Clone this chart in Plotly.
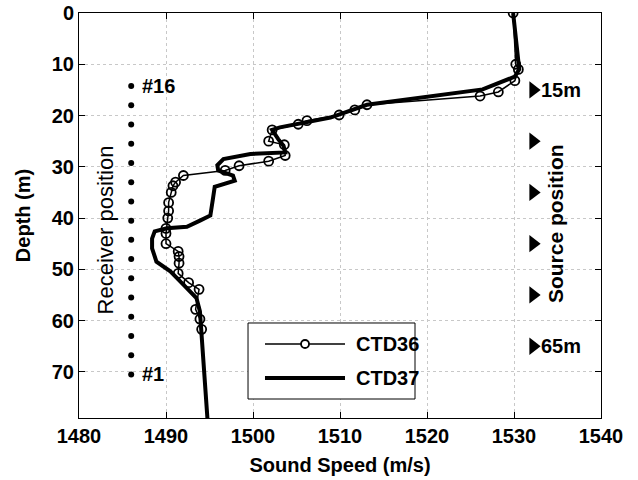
import plotly.graph_objects as go

# CTD36 (thin line with open circles)
ctd36_speed = [1529.9, 1530.2, 1530.5, 1530.1, 1528.2, 1526.1, 1513.1, 1511.7, 1509.9, 1506.2,
               1505.2, 1502.2, 1501.8, 1503.6, 1503.7, 1501.8, 1498.4, 1496.8, 1492.0, 1491.1,
               1490.8, 1490.6, 1490.3, 1490.3, 1490.2, 1490.0, 1490.0, 1490.0, 1491.4, 1491.5,
               1491.5, 1491.4, 1492.6, 1493.8, 1493.4, 1493.9, 1494.1]
ctd36_depth = [0, 10, 11, 13.2, 15.4, 16.2, 17.9, 18.9, 19.9, 21,
               21.7, 22.8, 25, 25.7, 27.8, 28.9, 29.8, 30.7, 31.7, 33,
               33.7, 35, 37, 38.6, 40, 42, 43, 45, 46.5, 47.5,
               48.8, 50.8, 52.6, 53.9, 57.8, 59.7, 61.7]

# CTD37 (thick line)
ctd37_speed = [1529.9, 1530.6, 1530.1, 1526.4, 1513.1, 1508.9, 1503.1, 1502.2, 1502.9, 1503.5,
               1503.7, 1499.7, 1496.6, 1495.9, 1496.0, 1497.7, 1497.9, 1495.6, 1495.4, 1495.1,
               1493.9, 1492.4, 1490.1, 1488.7, 1488.4, 1488.4, 1488.9, 1490.5, 1492.0, 1493.5,
               1493.9, 1494.8]
ctd37_depth = [0, 11, 12.4, 14.9, 17.9, 20.4, 22.3, 22.8, 24.6, 25.9,
               27.2, 27.5, 28.5, 29.7, 30.7, 31.7, 32.7, 33.9, 36.2, 39.5,
               40.5, 41.7, 42, 42.6, 44, 45.9, 48.5, 50.4, 53, 55.6,
               58.2, 80]

# Receiver array (16 hydrophones)
receiver_speed = [1486.0] * 16
receiver_depth = [14.25 + 3.75 * i for i in range(16)]
# Source positions
source_speed = [1532.2] * 6
source_depth = [15, 25, 35, 45, 55, 65]

x_ticks = [1480, 1490, 1500, 1510, 1520, 1530, 1540]
y_ticks = [0, 10, 20, 30, 40, 50, 60, 70]

FONT = "Liberation Sans, Arial, sans-serif"

fig = go.Figure()
fig.add_trace(go.Scatter(x=ctd37_speed, y=ctd37_depth, mode="lines",
                         line=dict(color="black", width=4), showlegend=False))
fig.add_trace(go.Scatter(x=ctd36_speed, y=ctd36_depth, mode="lines+markers",
                         line=dict(color="black", width=1.5),
                         marker=dict(symbol="circle-open", size=9, color="black",
                                     line=dict(width=1.8, color="black")),
                         showlegend=False))
fig.add_trace(go.Scatter(x=receiver_speed, y=receiver_depth, mode="markers",
                         marker=dict(symbol="circle", size=6, color="black"),
                         showlegend=False))
fig.add_trace(go.Scatter(x=source_speed, y=source_depth, mode="markers",
                         marker=dict(symbol="triangle-right", size=15, color="black"),
                         showlegend=False))

ann = []
ann.append(dict(x=1487.0, y=receiver_depth[0], text="<b>#16</b>", xanchor="left", yanchor="middle",
                showarrow=False, font=dict(size=20, color="black", family=FONT)))
ann.append(dict(x=1487.0, y=receiver_depth[-1], text="<b>#1</b>", xanchor="left", yanchor="middle",
                showarrow=False, font=dict(size=20, color="black", family=FONT)))
ann.append(dict(x=1532.9, y=source_depth[0], text="<b>15m</b>", xanchor="left", yanchor="middle",
                showarrow=False, font=dict(size=20, color="black", family=FONT)))
ann.append(dict(x=1532.9, y=source_depth[-1], text="<b>65m</b>", xanchor="left", yanchor="middle",
                showarrow=False, font=dict(size=20, color="black", family=FONT)))
ann.append(dict(x=1483.05, y=42.3, text="Receiver position", textangle=-90,
                xanchor="center", yanchor="middle", showarrow=False,
                font=dict(size=22, color="black", family=FONT)))
ann.append(dict(x=1534.7, y=41, text="<b>Source position</b>", textangle=-90,
                xanchor="center", yanchor="middle", showarrow=False,
                font=dict(size=21, color="black", family=FONT)))

# manual legend (paper coordinates)
shapes = []
shapes.append(dict(type="rect", xref="paper", yref="paper", x0=0.3238, x1=0.6437, y0=0.0469, y1=0.2346,
                   line=dict(color="black", width=1), fillcolor="white", layer="above"))
shapes.append(dict(type="line", xref="paper", yref="paper", x0=0.3563, x1=0.5096, y0=0.1827, y1=0.1827,
                   line=dict(color="black", width=1.5), layer="above"))
shapes.append(dict(type="circle", xref="paper", yref="paper", xsizemode="pixel", ysizemode="pixel",
                   xanchor=0.433, yanchor=0.1827, x0=-4, x1=4, y0=-4, y1=4,
                   line=dict(color="black", width=1.8), fillcolor="white", layer="above"))
shapes.append(dict(type="line", xref="paper", yref="paper", x0=0.3563, x1=0.5096, y0=0.0988, y1=0.0988,
                   line=dict(color="black", width=4), layer="above"))
ann.append(dict(x=0.5268, y=0.1827, xref="paper", yref="paper", text="<b>CTD36</b>",
                xanchor="left", yanchor="middle", showarrow=False,
                font=dict(size=20, color="black", family=FONT)))
ann.append(dict(x=0.5268, y=0.0988, xref="paper", yref="paper", text="<b>CTD37</b>",
                xanchor="left", yanchor="middle", showarrow=False,
                font=dict(size=20, color="black", family=FONT)))

axis_common = dict(showline=True, linecolor="black", linewidth=1, mirror="ticks",
                   ticks="inside", ticklen=6, tickcolor="black", tickwidth=1,
                   showgrid=True, gridcolor="#c8c8c8", griddash="dot", gridwidth=1,
                   zeroline=False, automargin=False,
                   tickfont=dict(size=20, color="black", family=FONT))

fig.update_layout(
    width=638, height=480,
    margin=dict(l=79, r=37, t=13, b=62),
    paper_bgcolor="white", plot_bgcolor="white",
    font=dict(family=FONT, color="black"),
    xaxis=dict(range=[1480, 1540], tickvals=x_ticks, ticktext=[f"<b>{v}</b>" for v in x_ticks],
               title=dict(text="<b>Sound Speed (m/s)</b>", font=dict(size=20, family=FONT), standoff=11),
               **axis_common),
    yaxis=dict(range=[79, 0], tickvals=y_ticks, ticktext=[f"<b>{v}</b>" for v in y_ticks],
               title=dict(text="<b>Depth (m)</b>", font=dict(size=20, family=FONT), standoff=15),
               **axis_common),
    annotations=ann, shapes=shapes, showlegend=False,
)

fig.write_html("out.html")
